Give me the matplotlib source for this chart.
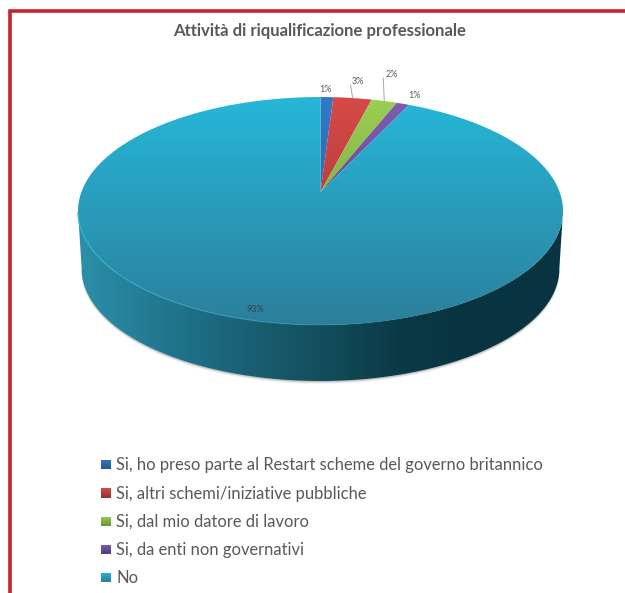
#!/usr/bin/env python3

import numpy as np
import matplotlib
matplotlib.use("Agg")
import matplotlib.pyplot as plt
from matplotlib.collections import LineCollection
from matplotlib.colors import LinearSegmentedColormap
from matplotlib.patches import Polygon

plt.rcParams["font.family"] = ["Lato", "DejaVu Sans"]

TITLE = "Attività di riqualificazione professionale"
categories = [
    "Si, ho preso parte al Restart scheme del governo britannico",
    "Si, altri schemi/iniziative pubbliche",
    "Si, dal mio datore di lavoro",
    "Si, da enti non governativi",
    "No",
]
values = [1, 3, 2, 1, 93]

# light / dark ends of each slice gradient
top_colors = ["#2F7AC8", "#D64A48", "#9ACF52", "#7F5CB0", "#26B7D8"]
low_colors = ["#27558C", "#96302F", "#6A9238", "#4F3D78", "#2C7F9B"]

# pie geometry in pixels, tilted with a perspective divide
CX, CY = 320.5, 192.0
RX, RY = 239.1, 110.8
TILT = 0.1667
DEPTH = 58.0
BOTTOM_SCALE = 0.985


def project(theta, scale=1.0, drop=0.0):
    """Map clockwise angles (degrees from 12 o'clock) to pixel positions"""
    t = np.radians(theta)
    denom = 1 + TILT * np.cos(t)
    x = CX + scale * RX * np.sin(t) / denom
    y = CY + drop - scale * RY * np.cos(t) / denom
    return x, y


def gradient_fill(ax, path_patch, extent, colors, horizontal=False, stops=None):
    """Draw a gradient image clipped to a polygon"""
    ax.add_patch(path_patch)
    if stops is not None:
        cmap = LinearSegmentedColormap.from_list("g", list(zip(stops, colors)))
    else:
        cmap = LinearSegmentedColormap.from_list("g", colors)
    ramp = np.linspace(0, 1, 256)
    data = ramp[None, :] if horizontal else ramp[:, None]
    img = ax.imshow(data, cmap=cmap, extent=extent, aspect="auto", origin="upper",
                    interpolation="bilinear", zorder=path_patch.get_zorder())
    path_patch.set_facecolor("none")
    path_patch.set_edgecolor("none")
    img.set_clip_path(path_patch)


fig = plt.figure(figsize=(6.25, 5.93), dpi=100)
ax = fig.add_axes([0, 0, 1, 1])
ax.axis("off")

# red frame, open on the right and at the bottom
ax.plot([10.4, 10.4, 625], [593, 10.8, 10.8], color="#C8202C", linewidth=2.6,
        solid_joinstyle="miter", solid_capstyle="butt", zorder=1)

ax.text(320, 31, TITLE, ha="center", va="center", fontsize=12.1, fontweight="bold",
        color="#595959")

# soft shadow under the pie wall
edge = np.degrees(np.arcsin(TILT))
front = np.linspace(90 + edge, 270 - edge, 240)
for grow, alpha in [(3.0, 0.06), (2.0, 0.12), (1.0, 0.2)]:
    sx, sy = project(front, BOTTOM_SCALE, DEPTH + grow)
    shadow = np.column_stack([sx, sy])
    ax.add_patch(Polygon(shadow, closed=True, facecolor="#404040", edgecolor="none",
                         alpha=alpha, zorder=2))

# pie wall, shaded left to right
bx, by = project(front, BOTTOM_SCALE, DEPTH)
tx, ty = project(front[::-1])
wall = Polygon(np.column_stack([np.r_[bx, tx], np.r_[by, ty]]), closed=True, zorder=3)
gradient_fill(
    ax, wall, (78, 563, 390, 190),
    ["#2C8FA9", "#20758C", "#1A6074", "#134E5C", "#0B3A47", "#083441", "#083441"],
    horizontal=True, stops=[0, 0.19, 0.35, 0.5, 0.66, 0.8, 1],
)

# top face, one clipped gradient per slice
bounds = np.r_[0, np.cumsum(values)] / np.sum(values) * 360
for i, (start, stop) in enumerate(zip(bounds[:-1], bounds[1:])):
    theta = np.linspace(start, stop, max(int(stop - start) * 2, 12))
    px, py = project(theta)
    pts = np.column_stack([np.r_[CX, px], np.r_[CY, py]])
    face = Polygon(pts, closed=True, zorder=4)
    gradient_fill(ax, face, (70, 570, 325, 97), [top_colors[i], low_colors[i]])

# bright lip on the front-left of the rim
lip = np.linspace(260, 150, 120)
lx, ly = project(lip)
segs = np.stack([np.column_stack([lx[:-1], ly[:-1]]), np.column_stack([lx[1:], ly[1:]])], axis=1)
fade = np.clip(np.linspace(1.1, -0.1, len(segs)), 0, 1)
lip_colors = np.tile(matplotlib.colors.to_rgba("#2DB4D2"), (len(segs), 1))
lip_colors[:, 3] = fade
ax.add_collection(LineCollection(segs, colors=lip_colors, linewidths=1.0, zorder=5))

# percentage labels placed relative to the middle of each slice rim
label_offsets = [(-1, -8), (5, -17), (8, -27), (12, -8), (-65, 0)]
mids = (bounds[:-1] + bounds[1:]) / 2
for i, val in enumerate(values):
    mx, my = project(mids[i])
    if i == 4:
        # the big slice carries its label at the front of the rim
        mx, my = project(180)
        my -= 15
    ax.text(mx + label_offsets[i][0], my + label_offsets[i][1], f"{val}%", ha="center",
            va="center", fontsize=6.5, color="#404040" if i == 4 else "#595959", zorder=7)

# leader lines for the two labels pushed off the rim
for i, (dx, dy) in [(1, (-2, -13)), (2, (-1, -23))]:
    mx, my = project(mids[i])
    ax.plot([mx, mx + dx], [my, my + dy], color="#A6A6A6", linewidth=0.7, zorder=6)

# legend
legend_y = [465, 493.5, 522, 550, 578]
for i, name in enumerate(categories):
    y = legend_y[i]
    swatch = Polygon([(101, y - 5.5), (111, y - 5.5), (111, y + 4.5), (101, y + 4.5)], closed=True, zorder=4)
    gradient_fill(ax, swatch, (101, 111, y + 4.5, y - 5.5), [top_colors[i], low_colors[i]])
    ax.text(116, y, name, ha="left", va="center", fontsize=11.9, color="#595959")

ax.set_xlim(0, 625)
ax.set_ylim(593, 0)

fig.savefig("out.png", dpi=100)
plt.close(fig)
